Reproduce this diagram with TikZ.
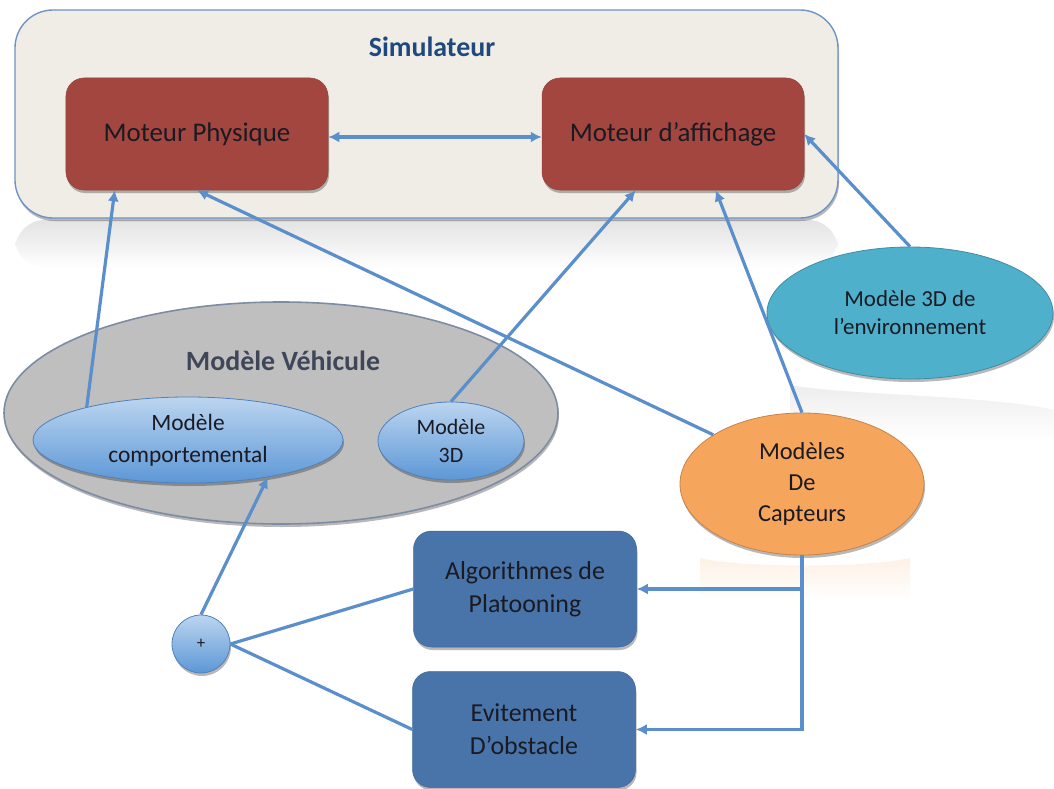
\documentclass[tikz,border=0pt]{standalone}
\usepackage{fontspec}
\setmainfont{Carlito}
\usetikzlibrary{arrows.meta,shapes.geometric,shadows}
\definecolor{simfill}{HTML}{EFEDE6}
\definecolor{simdraw}{HTML}{6F93C6}
\definecolor{redbox}{HTML}{A44640}
\definecolor{graybg}{HTML}{BFBFBF}
\definecolor{grayedge}{HTML}{7D8CA3}
\definecolor{bluetop}{HTML}{BCD5F0}
\definecolor{bluebot}{HTML}{5C97D6}
\definecolor{blueedge}{HTML}{4F81BD}
\definecolor{envfill}{HTML}{4FB0CC}
\definecolor{captfill}{HTML}{F6A55C}
\definecolor{darkbox}{HTML}{4874AA}
\definecolor{linkc}{HTML}{5B8FCC}
\definecolor{titleblue}{HTML}{1F497D}
\definecolor{txt}{HTML}{1A1A22}
\definecolor{vhtxt}{HTML}{3E4658}
\tikzset{
  shad/.style={general shadow={shadow xshift=1bp, shadow yshift=-3bp, fill=black, opacity=0.28}},
  redstyle/.style={rectangle, rounded corners=18bp, minimum width=262bp, minimum height=112bp,
    fill=redbox, draw=redbox!90!black, line width=0.5bp, shad, text=txt,
    font=\fontsize{27}{32}\selectfont},
  darkstyle/.style={rectangle, rounded corners=18bp, minimum width=223bp, minimum height=116bp,
    fill=darkbox, draw=darkbox!90!black, line width=0.5bp, shad, text=txt, align=center,
    font=\fontsize{26}{33}\selectfont},
  blueell/.style={ellipse, inner sep=0pt, top color=bluetop, bottom color=bluebot,
    draw=blueedge, line width=0.8bp, shad, text=txt, align=center},
  linkstyle/.style={draw=linkc, line width=3.2bp},
  tipped/.style={linkstyle, -{Latex[length=11bp,width=11bp]}},
}
\begin{document}
\begin{tikzpicture}[x=1bp,y=-1bp]
\useasboundingbox (0,0) rectangle (1054,789);
\fill[white] (0,0) rectangle (1054,789);
% reflections
\shade[top color=black!11, bottom color=white, rounded corners=30bp] (15,220) rectangle (838,268);
\shade[top color=black!7, bottom color=white] (790,385) .. controls (840,395) and (990,395) .. (1054,410) -- (1054,440) -- (790,440) -- cycle;
\shade[top color=captfill!16, bottom color=white] (700,558) .. controls (740,568) and (870,568) .. (910,558) -- (910,600) -- (700,600) -- cycle;

% Simulateur
\node[rectangle, rounded corners=38bp, minimum width=823bp, minimum height=208bp,
      fill=simfill, draw=simdraw, line width=1.4bp, shad] (sim) at (426.5,114) {};
\node[font=\bfseries\fontsize{28}{32}\selectfont, text=titleblue] (simtitle) at (432,47) {Simulateur};
\node[redstyle] (mp) at (197,134) {Moteur Physique};
\node[redstyle] (ma) at (673,134) {Moteur d’affichage};

% Modele Vehicule
\node[ellipse, inner sep=0pt, minimum width=554bp, minimum height=222bp,
      fill=graybg, draw=grayedge, line width=1.6bp, shad] (vh) at (281,413) {};
\node[font=\bfseries\fontsize{28}{32}\selectfont, text=vhtxt] (vhtitle) at (283,361) {Modèle Véhicule};
\node[blueell, minimum width=310bp, minimum height=86bp, font=\fontsize{23.5}{32}\selectfont] (comp) at (188,440) {Modèle\\comportemental};
\node[blueell, minimum width=146bp, minimum height=78bp, font=\fontsize{22}{28}\selectfont] (m3d) at (451,441) {Modèle\\3D};

% Environnement
\node[ellipse, inner sep=0pt, minimum width=286bp, minimum height=132bp,
      fill=envfill, draw=envfill!80!black, line width=0.8bp, shad, text=txt, align=center,
      font=\fontsize{23}{28}\selectfont] (env) at (910,313) {Modèle 3D de\\l’environnement};

% Capteurs
\node[ellipse, inner sep=0pt, minimum width=244bp, minimum height=142bp,
      fill=captfill, draw=captfill!80!black, line width=0.8bp, shad, text=txt, align=center,
      font=\fontsize{24.5}{31}\selectfont] (capt) at (802,484) {Modèles\\De\\Capteurs};

% Algorithmes
\node[darkstyle] (algo) at (525,589) {Algorithmes de\\Platooning};
\node[darkstyle] (evit) at (524,729.5) {Evitement\\D’obstacle};

% plus
\node[circle, inner sep=0pt, minimum size=58bp, top color=bluetop, bottom color=bluebot,
      draw=blueedge, line width=0.8bp, shad, text=txt, font=\fontsize{17}{18}\selectfont] (plus) at (201,644) {+};

% connectors
\draw[linkstyle, {Latex[length=11bp,width=11bp]}-{Latex[length=11bp,width=11bp]}] ([yshift=-3bp]mp.east) -- ([yshift=-3bp]ma.west);
\draw[tipped] (comp.162) -- ([xshift=49bp]mp.south west);
\draw[tipped] (capt.151) -- (mp.south);
\draw[tipped] (m3d.north) -- ([xshift=94bp]ma.south west);
\draw[tipped] (capt.north) -- ([xshift=174bp]ma.south west);
\draw[tipped] (env.north) -- (ma.east);
\draw[tipped] (capt.south) |- (algo.east);
\draw[tipped] (capt.south) |- (evit.east);
\draw[linkstyle] (algo.west) -- (plus.east);
\draw[linkstyle] (evit.west) -- (plus.east);
\draw[tipped] (plus.north) -- (comp.-25);
\end{tikzpicture}
\end{document}
